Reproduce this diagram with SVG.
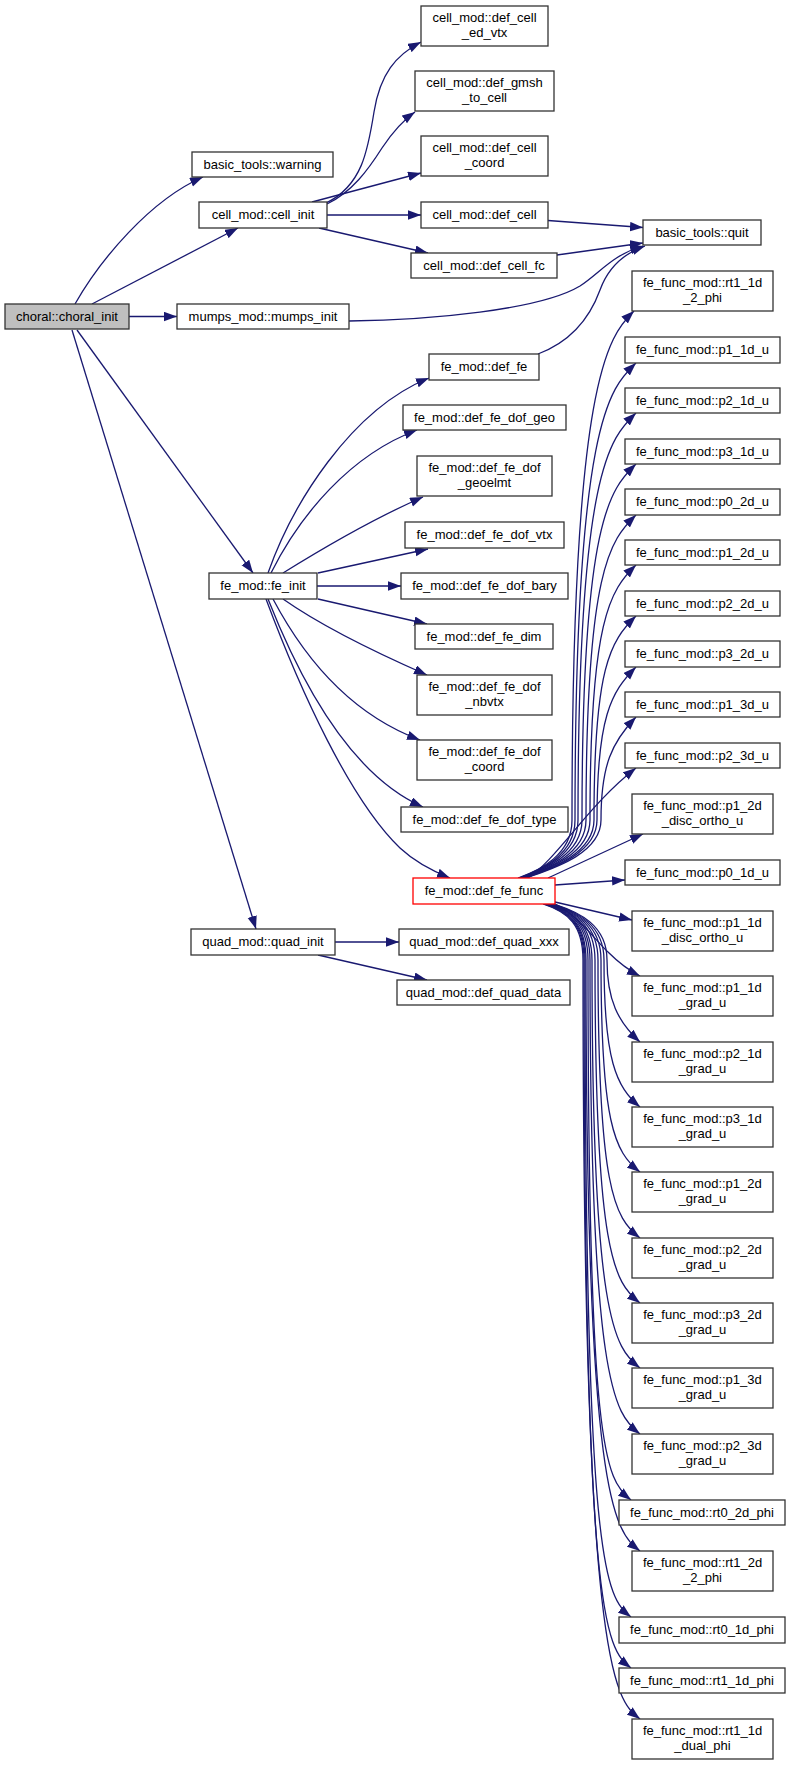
<svg xmlns="http://www.w3.org/2000/svg" width="791" height="1765" viewBox="0 0 791 1765">
<style>
.n rect{fill:#fff;stroke:#333;stroke-width:1.3}
.n text{font-family:"Liberation Sans",Arial,sans-serif;font-size:13px;fill:#000;text-anchor:middle}
#edges path{fill:none;stroke:#191970;stroke-width:1.3;marker-end:url(#a)}
</style>
<defs>
<marker id="a" markerUnits="userSpaceOnUse" markerWidth="14" markerHeight="10" refX="13" refY="4.7" orient="auto"><path d="M0,0 L13,4.7 L0,9.4 z" fill="#191970"/></marker>
</defs>
<rect width="791" height="1765" fill="#fff"/>
<g id="edges">
<path d="M75,304 C100,260 150,200 203,177"/>
<path d="M92,304 L238,228"/>
<path d="M129,316.5 L177,316.5"/>
<path d="M77,330 L253,573"/>
<path d="M72,330 L256,929"/>
<path d="M326,203 C362,186 368,150 374,112 C380,74 396,55 421,42"/>
<path d="M327,204 C352,192 368,170 382,148 C392,133 402,121 415,112"/>
<path d="M312,202 L421,173"/>
<path d="M327,215 L421,215"/>
<path d="M319,228 L428,253"/>
<path d="M548,220.5 L643,227.5"/>
<path d="M557,255 L643,243"/>
<path d="M349,321 C430,320 540,310 580,286 C600,273 612,255 643,246"/>
<path d="M538,354 C575,340 592,312 600,290 C608,268 622,254 645,246"/>
<path d="M268,573 C292,505 350,410 429,378"/>
<path d="M271,573 C300,515 350,455 417,430"/>
<path d="M283,573 C320,550 370,520 423,497"/>
<path d="M318,573 L428,549"/>
<path d="M317,586 L401,586"/>
<path d="M318,599 L427,624"/>
<path d="M283,599 C320,625 370,650 427,675"/>
<path d="M273,599 C300,650 345,712 420,740"/>
<path d="M268,599 C300,680 350,775 423,807"/>
<path d="M266,599 C300,690 350,800 400,848 C415,862 430,870 450,878"/>
<path d="M335,942 L399,942"/>
<path d="M318,955 L427,980"/>
<path d="M518,878 C540,870 572,855 572,820 C572,380 608,336 634,311"/>
<path d="M519,878 C541,870 575,855 575,820 C575,420 610,388 636,363"/>
<path d="M520,878 C542,870 578,855 578,820 C578,470 610,438 636,413"/>
<path d="M521,878 C543,870 582,855 582,820 C582,520 610,489 636,464"/>
<path d="M522,878 C544,870 586,855 586,820 C586,570 610,540 636,515"/>
<path d="M523,878 C545,870 590,855 590,820 C590,620 610,590 636,565"/>
<path d="M524,878 C546,870 594,855 594,820 C594,668 610,641 636,616"/>
<path d="M525,878 C547,870 597,855 597,820 C597,717 611,692 636,667"/>
<path d="M526,878 C548,870 601,855 601,820 C601,765 612,742 636,717"/>
<path d="M528,878 C558,858 588,805 636,768"/>
<path d="M548,878 L643,834"/>
<path d="M555,885 L625,880"/>
<path d="M555,902 L632,920"/>
<path d="M555,904 C578,915 595,940 608,952 C618,962 628,970 640,976"/>
<path d="M554,904 C579,912 607,925 607,960 C607,1000 618,1022 640,1042"/>
<path d="M553,904 C578,912 604,925 604,960 C604,1060 616,1087 640,1107"/>
<path d="M552,904 C577,912 601,925 601,960 C601,1122 614,1152 640,1172"/>
<path d="M551,904 C576,912 598,925 598,960 C598,1188 614,1218 640,1238"/>
<path d="M550,904 C575,912 595,925 595,960 C595,1253 614,1283 640,1303"/>
<path d="M549,904 C574,912 592,925 592,960 C592,1318 614,1348 640,1368"/>
<path d="M548,904 C573,912 590,925 590,960 C590,1384 614,1414 640,1434"/>
<path d="M547,904 C572,912 588,925 588,960 C588,1450 605,1480 631,1500"/>
<path d="M546,904 C571,912 586,925 586,960 C586,1501 614,1531 640,1551"/>
<path d="M545,904 C570,912 585,925 585,960 C585,1567 605,1597 631,1617"/>
<path d="M544,904 C569,912 584,925 584,960 C584,1618 605,1648 631,1668"/>
<path d="M543,904 C568,912 583,925 583,960 C583,1669 614,1699 640,1719"/>
</g>
<g id="choral_init" class="n"><rect x="5" y="304" width="124" height="25" style="fill:#bfbfbf"/><text x="67" y="320.5">choral::choral_init</text></g>
<g id="warning" class="n"><rect x="192" y="152" width="141" height="25"/><text x="262.5" y="168.5">basic_tools::warning</text></g>
<g id="cell_init" class="n"><rect x="199" y="202" width="128" height="26"/><text x="263" y="219">cell_mod::cell_init</text></g>
<g id="mumps_init" class="n"><rect x="177" y="304" width="172" height="25"/><text x="263" y="320.5">mumps_mod::mumps_init</text></g>
<g id="def_cell_ed_vtx" class="n"><rect x="421" y="6" width="127" height="40"/><text x="484.5" y="22.3">cell_mod::def_cell</text><text x="484.5" y="36.5">_ed_vtx</text></g>
<g id="def_gmsh_to_cell" class="n"><rect x="415" y="71" width="139" height="40"/><text x="484.5" y="87.3">cell_mod::def_gmsh</text><text x="484.5" y="101.5">_to_cell</text></g>
<g id="def_cell_coord" class="n"><rect x="421" y="136" width="127" height="40"/><text x="484.5" y="152.3">cell_mod::def_cell</text><text x="484.5" y="166.5">_coord</text></g>
<g id="def_cell" class="n"><rect x="421" y="202" width="127" height="26"/><text x="484.5" y="219">cell_mod::def_cell</text></g>
<g id="def_cell_fc" class="n"><rect x="411" y="253" width="146" height="25"/><text x="484" y="269.5">cell_mod::def_cell_fc</text></g>
<g id="quit" class="n"><rect x="643" y="220" width="118" height="25"/><text x="702" y="236.5">basic_tools::quit</text></g>
<g id="fe_init" class="n"><rect x="209" y="573" width="108" height="26"/><text x="263" y="590">fe_mod::fe_init</text></g>
<g id="def_fe" class="n"><rect x="429" y="354" width="110" height="26"/><text x="484" y="371">fe_mod::def_fe</text></g>
<g id="def_fe_dof_geo" class="n"><rect x="403" y="405" width="163" height="25"/><text x="484.5" y="421.5">fe_mod::def_fe_dof_geo</text></g>
<g id="def_fe_dof_geoelmt" class="n"><rect x="417" y="456" width="135" height="40"/><text x="484.5" y="472.3">fe_mod::def_fe_dof</text><text x="484.5" y="486.5">_geoelmt</text></g>
<g id="def_fe_dof_vtx" class="n"><rect x="405" y="522" width="159" height="26"/><text x="484.5" y="539">fe_mod::def_fe_dof_vtx</text></g>
<g id="def_fe_dof_bary" class="n"><rect x="401" y="573" width="167" height="26"/><text x="484.5" y="590">fe_mod::def_fe_dof_bary</text></g>
<g id="def_fe_dim" class="n"><rect x="415" y="624" width="138" height="25"/><text x="484" y="640.5">fe_mod::def_fe_dim</text></g>
<g id="def_fe_dof_nbvtx" class="n"><rect x="417" y="675" width="135" height="40"/><text x="484.5" y="691.3">fe_mod::def_fe_dof</text><text x="484.5" y="705.5">_nbvtx</text></g>
<g id="def_fe_dof_coord" class="n"><rect x="417" y="740" width="135" height="40"/><text x="484.5" y="756.3">fe_mod::def_fe_dof</text><text x="484.5" y="770.5">_coord</text></g>
<g id="def_fe_dof_type" class="n"><rect x="401" y="807" width="167" height="25"/><text x="484.5" y="823.5">fe_mod::def_fe_dof_type</text></g>
<g id="def_fe_func" class="n"><rect x="413" y="878" width="142" height="26" style="stroke:#ff0000"/><text x="484" y="895">fe_mod::def_fe_func</text></g>
<g id="quad_init" class="n"><rect x="191" y="929" width="144" height="26"/><text x="263" y="946">quad_mod::quad_init</text></g>
<g id="def_quad_xxx" class="n"><rect x="399" y="929" width="170" height="26"/><text x="484" y="946">quad_mod::def_quad_xxx</text></g>
<g id="def_quad_data" class="n"><rect x="397" y="980" width="173" height="25"/><text x="483.5" y="996.5">quad_mod::def_quad_data</text></g>
<g id="rt1_1d_2_phi" class="n"><rect x="632" y="271" width="141" height="40"/><text x="702.5" y="287.3">fe_func_mod::rt1_1d</text><text x="702.5" y="301.5">_2_phi</text></g>
<g id="p1_1d_u" class="n"><rect x="625" y="337" width="155" height="26"/><text x="702.5" y="354">fe_func_mod::p1_1d_u</text></g>
<g id="p2_1d_u" class="n"><rect x="625" y="388" width="155" height="25"/><text x="702.5" y="404.5">fe_func_mod::p2_1d_u</text></g>
<g id="p3_1d_u" class="n"><rect x="625" y="439" width="155" height="25"/><text x="702.5" y="455.5">fe_func_mod::p3_1d_u</text></g>
<g id="p0_2d_u" class="n"><rect x="625" y="489" width="155" height="26"/><text x="702.5" y="506">fe_func_mod::p0_2d_u</text></g>
<g id="p1_2d_u" class="n"><rect x="625" y="540" width="155" height="25"/><text x="702.5" y="556.5">fe_func_mod::p1_2d_u</text></g>
<g id="p2_2d_u" class="n"><rect x="625" y="591" width="155" height="25"/><text x="702.5" y="607.5">fe_func_mod::p2_2d_u</text></g>
<g id="p3_2d_u" class="n"><rect x="625" y="641" width="155" height="26"/><text x="702.5" y="658">fe_func_mod::p3_2d_u</text></g>
<g id="p1_3d_u" class="n"><rect x="625" y="692" width="155" height="25"/><text x="702.5" y="708.5">fe_func_mod::p1_3d_u</text></g>
<g id="p2_3d_u" class="n"><rect x="625" y="743" width="155" height="25"/><text x="702.5" y="759.5">fe_func_mod::p2_3d_u</text></g>
<g id="p1_2d_disc_ortho_u" class="n"><rect x="632" y="794" width="141" height="40"/><text x="702.5" y="810.3">fe_func_mod::p1_2d</text><text x="702.5" y="824.5">_disc_ortho_u</text></g>
<g id="p0_1d_u" class="n"><rect x="625" y="860" width="155" height="25"/><text x="702.5" y="876.5">fe_func_mod::p0_1d_u</text></g>
<g id="p1_1d_disc_ortho_u" class="n"><rect x="632" y="911" width="141" height="40"/><text x="702.5" y="927.3">fe_func_mod::p1_1d</text><text x="702.5" y="941.5">_disc_ortho_u</text></g>
<g id="p1_1d_grad_u" class="n"><rect x="632" y="976" width="141" height="40"/><text x="702.5" y="992.3">fe_func_mod::p1_1d</text><text x="702.5" y="1006.5">_grad_u</text></g>
<g id="p2_1d_grad_u" class="n"><rect x="632" y="1042" width="141" height="40"/><text x="702.5" y="1058.3">fe_func_mod::p2_1d</text><text x="702.5" y="1072.5">_grad_u</text></g>
<g id="p3_1d_grad_u" class="n"><rect x="632" y="1107" width="141" height="40"/><text x="702.5" y="1123.3">fe_func_mod::p3_1d</text><text x="702.5" y="1137.5">_grad_u</text></g>
<g id="p1_2d_grad_u" class="n"><rect x="632" y="1172" width="141" height="40"/><text x="702.5" y="1188.3">fe_func_mod::p1_2d</text><text x="702.5" y="1202.5">_grad_u</text></g>
<g id="p2_2d_grad_u" class="n"><rect x="632" y="1238" width="141" height="40"/><text x="702.5" y="1254.3">fe_func_mod::p2_2d</text><text x="702.5" y="1268.5">_grad_u</text></g>
<g id="p3_2d_grad_u" class="n"><rect x="632" y="1303" width="141" height="40"/><text x="702.5" y="1319.3">fe_func_mod::p3_2d</text><text x="702.5" y="1333.5">_grad_u</text></g>
<g id="p1_3d_grad_u" class="n"><rect x="632" y="1368" width="141" height="40"/><text x="702.5" y="1384.3">fe_func_mod::p1_3d</text><text x="702.5" y="1398.5">_grad_u</text></g>
<g id="p2_3d_grad_u" class="n"><rect x="632" y="1434" width="141" height="40"/><text x="702.5" y="1450.3">fe_func_mod::p2_3d</text><text x="702.5" y="1464.5">_grad_u</text></g>
<g id="rt0_2d_phi" class="n"><rect x="619" y="1500" width="166" height="25"/><text x="702" y="1516.5">fe_func_mod::rt0_2d_phi</text></g>
<g id="rt1_2d_2_phi" class="n"><rect x="632" y="1551" width="141" height="40"/><text x="702.5" y="1567.3">fe_func_mod::rt1_2d</text><text x="702.5" y="1581.5">_2_phi</text></g>
<g id="rt0_1d_phi" class="n"><rect x="619" y="1617" width="166" height="26"/><text x="702" y="1634">fe_func_mod::rt0_1d_phi</text></g>
<g id="rt1_1d_phi" class="n"><rect x="619" y="1668" width="166" height="25"/><text x="702" y="1684.5">fe_func_mod::rt1_1d_phi</text></g>
<g id="rt1_1d_dual_phi" class="n"><rect x="632" y="1719" width="141" height="40"/><text x="702.5" y="1735.3">fe_func_mod::rt1_1d</text><text x="702.5" y="1749.5">_dual_phi</text></g>
</svg>
